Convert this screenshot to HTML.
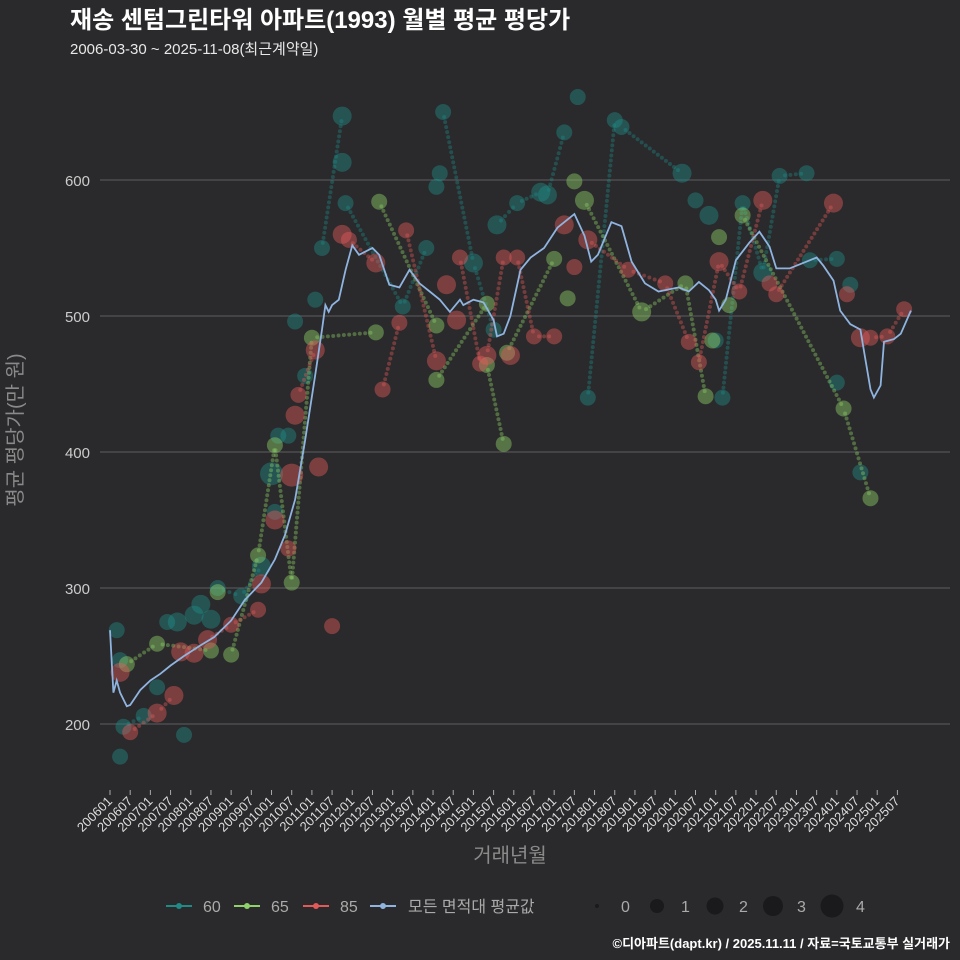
<!DOCTYPE html>
<html><head><meta charset="utf-8"><style>
body{margin:0;background:#2a292b;}
svg{display:block;font-family:"Liberation Sans","Noto Sans CJK KR",sans-serif;}
</style></head><body>
<svg id="c" width="960" height="960" viewBox="0 0 960 960">
<rect width="960" height="960" fill="#2a292b"/>
<text x="70" y="28" fill="#fff" font-size="24" font-weight="bold">재송 센텀그린타워 아파트(1993) 월별 평균 평당가</text>
<text x="70" y="54" fill="#e8e8e8" font-size="15">2006-03-30 ~ 2025-11-08(최근계약일)</text>
<g id="grid"></g>
<g id="marks"></g>
<text transform="translate(22,430) rotate(-90)" text-anchor="middle" fill="#8a8a8a" font-size="20">평균 평당가(만 원)</text>
<text x="510" y="862" text-anchor="middle" fill="#8a8a8a" font-size="20">거래년월</text>
<g>
<g><line x1="166" y1="906" x2="192" y2="906" stroke="#1f8a86" stroke-width="2"/><circle cx="179" cy="906" r="3" fill="#1f8a86"/><text x="203" y="912" fill="#aaa" font-size="16">60</text></g>
<g><line x1="234" y1="906" x2="260" y2="906" stroke="#8fd16a" stroke-width="2"/><circle cx="247" cy="906" r="3" fill="#8fd16a"/><text x="271" y="912" fill="#aaa" font-size="16">65</text></g>
<g><line x1="303" y1="906" x2="329" y2="906" stroke="#e05a5a" stroke-width="2"/><circle cx="316" cy="906" r="3" fill="#e05a5a"/><text x="340" y="912" fill="#aaa" font-size="16">85</text></g>
<g><line x1="370" y1="906" x2="396" y2="906" stroke="#8fb4e0" stroke-width="2"/><circle cx="383" cy="906" r="3" fill="#8fb4e0"/><text x="408" y="912" fill="#aaa" font-size="16">모든 면적대 평균값</text></g>
<g fill="#1a191b">
<circle cx="597" cy="906" r="2"/><text x="621" y="912" fill="#aaa" font-size="16">0</text>
<circle cx="657" cy="906" r="7"/><text x="681" y="912" fill="#aaa" font-size="16">1</text>
<circle cx="715" cy="906" r="8.5"/><text x="739" y="912" fill="#aaa" font-size="16">2</text>
<circle cx="773" cy="906" r="10"/><text x="797" y="912" fill="#aaa" font-size="16">3</text>
<circle cx="832" cy="906" r="11.5"/><text x="856" y="912" fill="#aaa" font-size="16">4</text>
</g></g>
<text x="950" y="948" text-anchor="end" fill="#fff" font-size="13" font-weight="bold">©디아파트(dapt.kr) / 2025.11.11 / 자료=국토교통부 실거래가</text>
</svg>
<script>
const yTicks=[200,300,400,500,600];
const xTickLabels=["200601","200607","200701","200707","200801","200807","200901","200907","201001","201007","201101","201107","201201","201207","201301","201307","201401","201407","201501","201507","201601","201607","201701","201707","201801","201807","201901","201907","202001","202007","202101","202107","202201","202207","202301","202307","202401","202407","202501","202507"];
const s60Dates=["200603","200604","200604","200605","200611","200703","200706","200709","200711","200802","200804","200807","200809","200904","200910","201001","201002","201003","201006","201008","201011","201102","201104","201110","201110","201111","201304","201311","201402","201403","201404","201501","201507","201508","201602","201609","201611","201704","201708","201711","201807","201809","202003","202007","202011","202101","202103","202109","202203","202208","202304","202305","202401","202401","202405","202408"];
const s60Vals=[269,176,247,198,206,227,275,275,192,280,288,277,300,294,316,384,356,412,412,496,456,512,550,647,613,583,507,550,595,605,650,539,490,567,583,591,589,635,661,440,644,639,605,585,574,482,440,583,532,603,605,541,542,451,523,385];
const s60Size=[2,2,2,2,2,2,2,3,2,3,3,3,2,2,3,4,2,2,2,2,2,2,2,3,3,2,2,2,2,2,2,3,2,3,2,3,3,2,2,2,2,2,3,2,3,2,2,2,3,2,2,2,2,2,2,2];
const s65Dates=["200606","200703","200807","200809","200901","200909","201002","201007","201101","201208","201209","201402","201402","201505","201505","201510","201511","201701","201705","201707","201710","201903","202004","202010","202012","202102","202105","202109","202403","202411"];
const s65Vals=[244,259,254,297,251,324,405,304,484,488,584,493,453,509,464,406,473,542,513,599,585,503,524,441,482,558,508,574,432,366];
const s65Size=[2,2,2,2,2,2,2,2,2,2,2,2,2,2,2,2,2,2,2,2,3,3,2,2,2,2,2,2,2,2];
const s85Dates=["200604","200607","200703","200708","200710","200802","200806","200901","200909","200910","201002","201006","201007","201008","201009","201102","201103","201107","201110","201112","201208","201210","201303","201305","201402","201405","201408","201409","201503","201505","201510","201512","201602","201607","201701","201704","201707","201711","201811","201910","202005","202008","202102","202108","202203","202205","202207","202312","202404","202408","202411","202504","202509"];
const s85Vals=[238,194,208,221,253,252,262,273,284,303,350,329,383,427,442,475,389,272,560,556,539,446,495,563,467,523,497,543,465,471,543,471,543,485,485,567,536,556,534,524,481,466,540,518,585,524,516,583,516,484,484,485,505];
const s85Size=[3,2,3,3,3,3,3,2,2,3,3,2,4,3,2,3,3,2,3,2,3,2,2,2,3,3,3,2,2,3,2,3,2,2,2,3,2,3,2,2,2,2,3,2,3,2,2,3,2,3,2,2,2];
const avgDates=["200601","200602","200603","200604","200606","200607","200610","200701","200704","200707","200711","200804","200808","200901","200905","200910","201002","201005","201008","201011","201102","201104","201105","201106","201107","201109","201111","201201","201203","201207","201209","201212","201303","201306","201309","201312","201403","201406","201409","201410","201501","201504","201507","201508","201510","201512","201603","201606","201610","201702","201707","201710","201712","201802","201806","201809","201812","201904","201908","202002","202005","202008","202011","202101","202102","202104","202107","202111","202202","202205","202207","202211","202304","202307","202309","202312","202402","202405","202408","202409","202411","202412","202502","202503","202506","202508","202511"];
const avgVals=[269,223,232,223,213,214,225,232,237,243,250,258,264,276,291,304,321,339,365,409,457,490,508,503,508,512,534,552,545,550,545,523,521,534,524,518,512,503,512,508,512,510,497,485,487,500,534,543,550,565,575,559,540,545,569,566,540,524,518,521,518,525,519,512,504,512,541,554,562,551,535,535,540,543,537,526,504,494,490,475,446,440,449,481,483,487,504];

const NS="http://www.w3.org/2000/svg";
const X0=110,MW=3.365;
function mIdx(d){return (+d.slice(0,4)-2006)*12+(+d.slice(4,6)-1);}
function xOf(d){return X0+mIdx(d)*MW;}
function yOf(v){return 180+(600-v)*1.36;}
const R=[2.5,6.5,8,9.5,11.5];
function mk(tag,attrs,parent){const e=document.createElementNS(NS,tag);for(const k in attrs)e.setAttribute(k,attrs[k]);parent.appendChild(e);return e;}
const grid=document.getElementById('grid'),marks=document.getElementById('marks'),svg=document.getElementById('c');
yTicks.forEach(v=>{
  const l=mk('line',{x1:100,x2:950,y1:yOf(v),y2:yOf(v),stroke:'#5e5d60','stroke-width':1},grid);
  
  
  const t=mk('text',{x:90,y:yOf(v)+6,'text-anchor':'end',fill:'#ccc','font-size':15},svg);
  t.textContent=v;
  
  
});
xTickLabels.forEach(d=>{
  const x=xOf(d);
  const tk=mk('line',{x1:x,x2:x,y1:790,y2:795,stroke:'#aaa'},svg);
  
  
  const t=mk('text',{x:x+3,y:802,'text-anchor':'end',fill:'#ddd','font-size':13,transform:`rotate(-45 ${x+3} 802)`},svg);
  t.textContent=d;
  
  
});
function series(dates,vals,sizes,color,name){
  const g=mk('g',{},marks);
  
  
  const idx=dates.map((d,i)=>i).sort((a,b)=>mIdx(dates[a])-mIdx(dates[b]));
  for(let k=1;k<idx.length;k++){
    const a=idx[k-1],b=idx[k];
    if(mIdx(dates[b])-mIdx(dates[a])<5) continue;
    const x1=xOf(dates[a]),y1=yOf(vals[a]),x2=xOf(dates[b]),y2=yOf(vals[b]);
    const n=Math.floor(Math.hypot(x2-x1,y2-y1)/5);
    for(let j=1;j<n;j++){
      const c=mk('circle',{cx:x1+(x2-x1)*j/n,cy:y1+(y2-y1)*j/n,r:2,fill:color,'fill-opacity':0.4},g);
      
      
    }
  }
  dates.forEach((d,i)=>{
    const c=mk('circle',{cx:xOf(d),cy:yOf(vals[i]),r:R[sizes[i]],fill:color,'fill-opacity':0.45},g);
    
    
  });
}
series(s60Dates,s60Vals,s60Size,'#1f8a86','60');
series(s65Dates,s65Vals,s65Size,'#8fd16a','65');
series(s85Dates,s85Vals,s85Size,'#e05a5a','85');
const p=avgDates.map((d,i)=>xOf(d).toFixed(1)+','+yOf(avgVals[i]).toFixed(1)).join(' ');
const pl=mk('polyline',{points:p,fill:'none',stroke:'#8fb4e0','stroke-width':1.8},marks);


</script>
</body></html>
